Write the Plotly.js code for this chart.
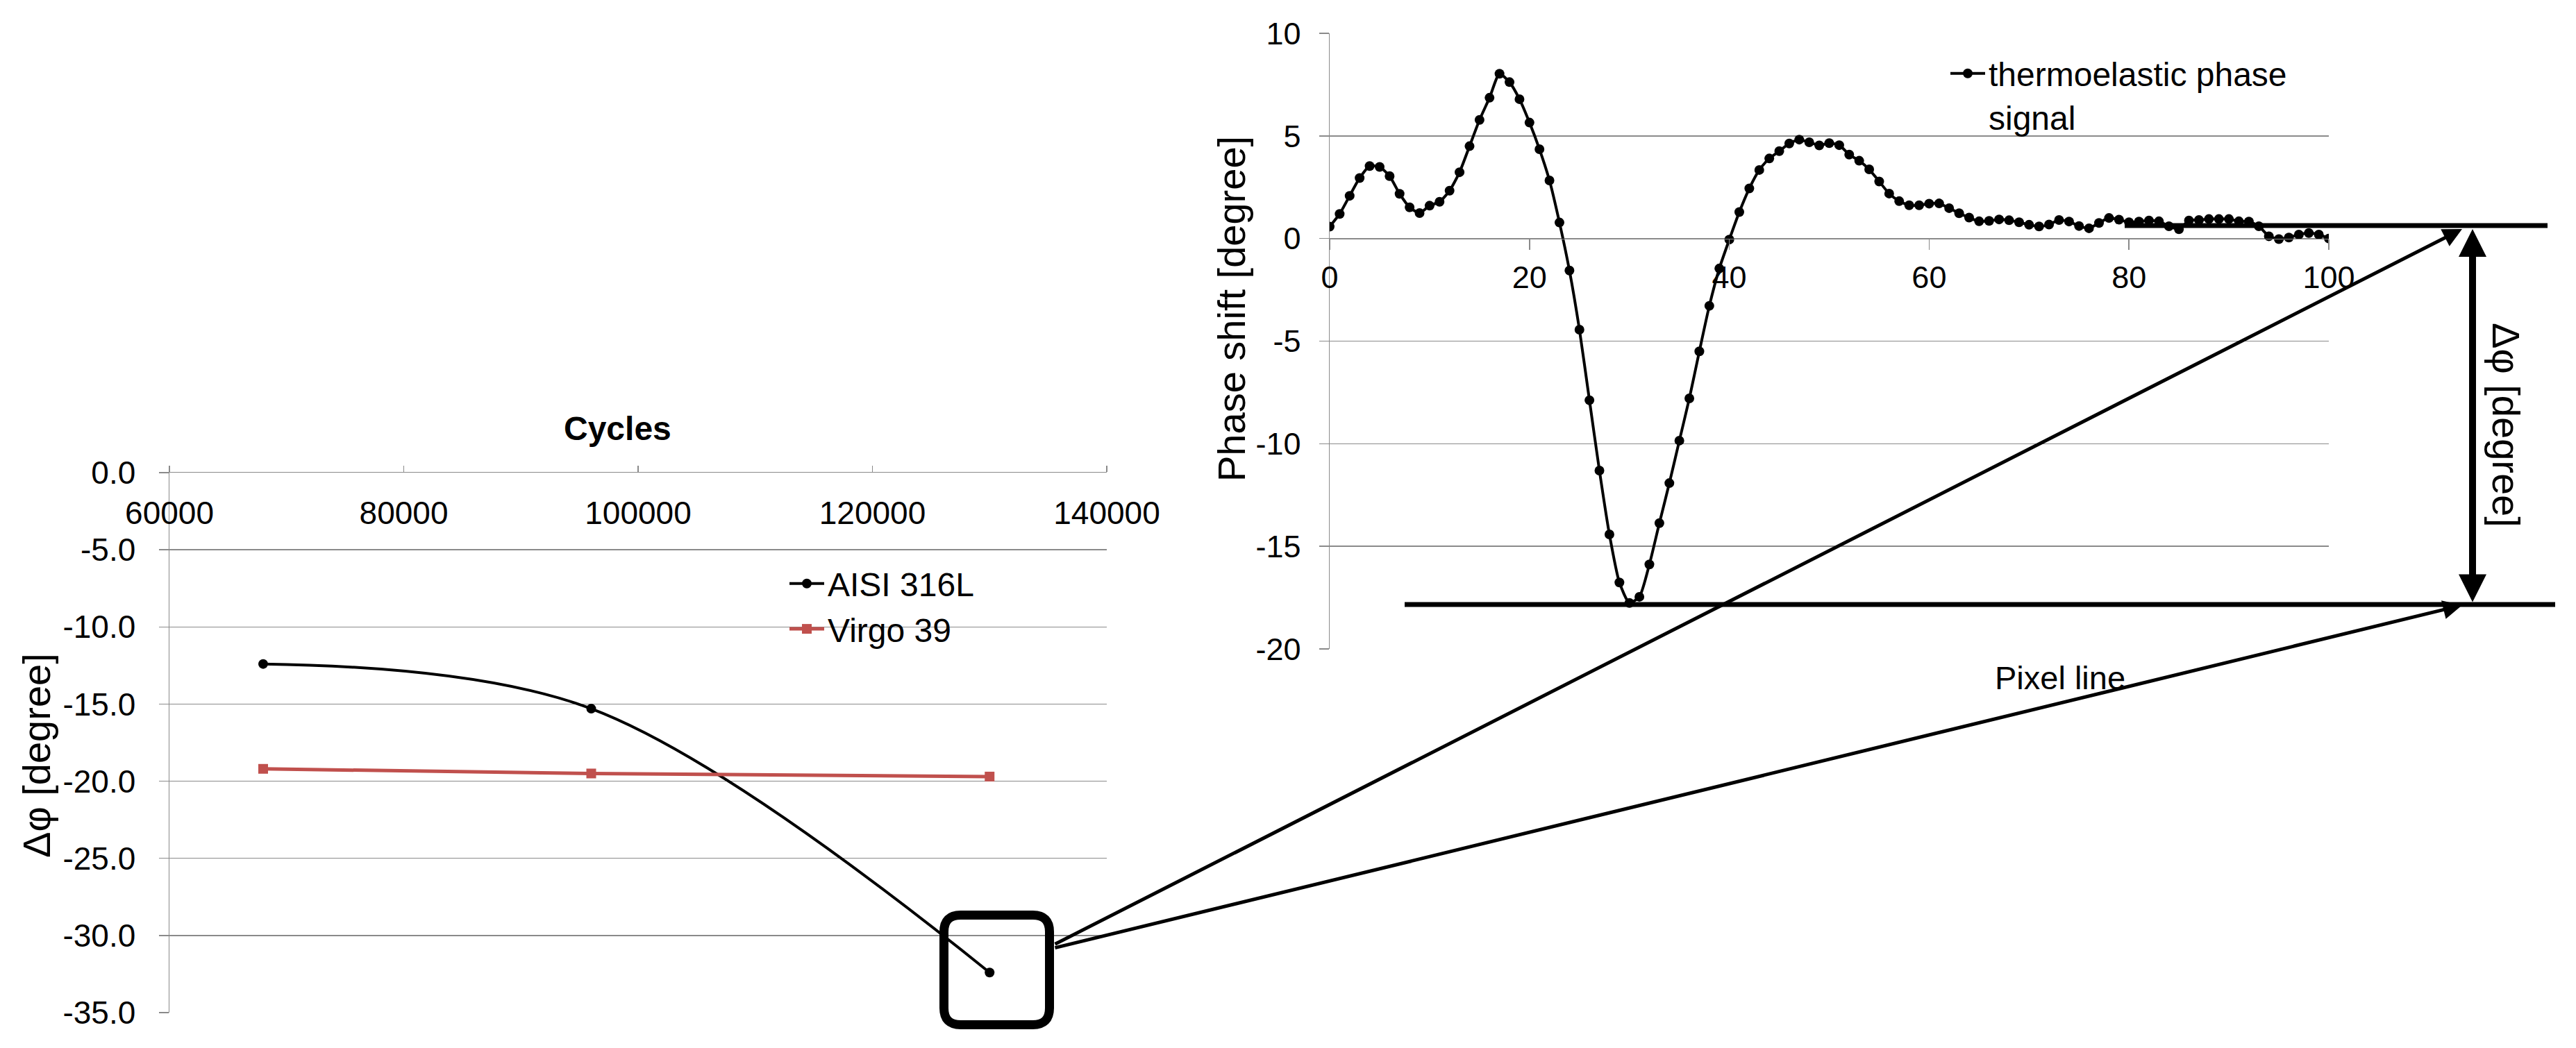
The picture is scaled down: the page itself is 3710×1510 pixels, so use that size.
<!DOCTYPE html>
<html>
<head>
<meta charset="utf-8">
<script src="https://cdn.plot.ly/plotly-3.0.1.min.js"></script>
<style>
html, body { margin: 0; padding: 0; background: #ffffff; }
#chart { width: 3710px; height: 1510px; }
</style>
</head>
<body>
<div id="chart"></div>
<script>
// ---------- Left chart data ----------
const cycles = [68000, 96000, 130000];
const aisi316L = [-12.4, -15.3, -32.4];
const virgo39 = [-19.2, -19.5, -19.7];
const leftXTickVals = [60000, 80000, 100000, 120000, 140000];
const leftXTickText = ['60000', '80000', '100000', '120000', '140000'];
const leftYTickVals = [0, -5, -10, -15, -20, -25, -30, -35];
const leftYTickText = ['0.0', '-5.0', '-10.0', '-15.0', '-20.0', '-25.0', '-30.0', '-35.0'];

// ---------- Right chart data ----------
const pixelIndex = [0, 1, 2, 3, 4, 5, 6, 7, 8, 9,
  10, 11, 12, 13, 14, 15, 16, 17, 18, 19,
  20, 21, 22, 23, 24, 25, 26, 27, 28, 29,
  30, 31, 32, 33, 34, 35, 36, 37, 38, 39,
  40, 41, 42, 43, 44, 45, 46, 47, 48, 49,
  50, 51, 52, 53, 54, 55, 56, 57, 58, 59,
  60, 61, 62, 63, 64, 65, 66, 67, 68, 69,
  70, 71, 72, 73, 74, 75, 76, 77, 78, 79,
  80, 81, 82, 83, 84, 85, 86, 87, 88, 89,
  90, 91, 92, 93, 94, 95, 96, 97, 98, 99,
  100];
const phaseShift = [0.58, 1.2, 2.08, 2.95, 3.53, 3.49, 3.04, 2.18, 1.52, 1.24,
  1.6, 1.79, 2.33, 3.23, 4.5, 5.78, 6.86, 8.03, 7.62, 6.79,
  5.65, 4.35, 2.83, 0.78, -1.56, -4.44, -7.88, -11.31, -14.42, -16.76,
  -17.76, -17.46, -15.88, -13.87, -11.92, -9.85, -7.79, -5.5, -3.28, -1.46,
  -0.05, 1.29, 2.44, 3.34, 3.9, 4.26, 4.63, 4.82, 4.69, 4.54,
  4.65, 4.55, 4.09, 3.79, 3.37, 2.78, 2.19, 1.82, 1.62, 1.62,
  1.7, 1.71, 1.48, 1.23, 1.02, 0.84, 0.86, 0.93, 0.89, 0.79,
  0.67, 0.59, 0.68, 0.9, 0.83, 0.61, 0.5, 0.76, 1.0, 0.92,
  0.79, 0.83, 0.88, 0.84, 0.6, 0.45, 0.88, 0.9, 0.95, 0.95,
  0.95, 0.84, 0.83, 0.6, 0.11, -0.03, 0.05, 0.19, 0.27, 0.19,
  0.0];
const rightXTickVals = [0, 20, 40, 60, 80, 100];
const rightXTickText = ['0', '20', '40', '60', '80', '100'];
const rightYTickVals = [10, 5, 0, -5, -10, -15, -20];
const rightYTickText = ['10', '5', '0', '-5', '-10', '-15', '-20'];

// ---------- Layout helpers (pixel -> paper) ----------
const W = 3710, H = 1510;
const px = v => v / W;
const py = v => 1 - v / H;

const FONT = 'Liberation Sans, Arial, Helvetica, sans-serif';
const GRID = '#8a8a8a';

const leftXRange = [60000, 140000];
const leftYRange = [-35, 0];
const rightXRange = [0, 100];
const rightYRange = [-20, 10];

const leftXDomain = [px(244), px(1594)];
const leftYDomain = [py(1459), py(681)];
const rightXDomain = [px(1915), px(3354)];
const rightYDomain = [py(935), py(48)];
// right x axis crosses the y axis at y = 0
const rightXPos = rightYDomain[0] +
  (0 - rightYRange[0]) / (rightYRange[1] - rightYRange[0]) * (rightYDomain[1] - rightYDomain[0]);

const traces = [
  {
    x: cycles, y: aisi316L, name: 'AISI 316L', type: 'scatter', mode: 'lines+markers',
    xaxis: 'x', yaxis: 'y', legend: 'legend',
    line: { color: '#000000', width: 4, shape: 'spline', smoothing: 1 },
    marker: { symbol: 'circle', size: 14, color: '#000000' }
  },
  {
    x: cycles, y: virgo39, name: 'Virgo 39', type: 'scatter', mode: 'lines+markers',
    xaxis: 'x', yaxis: 'y', legend: 'legend',
    line: { color: '#C0504D', width: 5 },
    marker: { symbol: 'square', size: 14, color: '#C0504D' }
  },
  {
    x: pixelIndex, y: phaseShift, name: 'thermoelastic phase<br>signal', type: 'scatter',
    mode: 'lines+markers', xaxis: 'x2', yaxis: 'y2', legend: 'legend2',
    line: { color: '#000000', width: 4, shape: 'spline', smoothing: 0.6 },
    marker: { symbol: 'circle', size: 14, color: '#000000' }
  }
];

function roundedRect(l, t, r, b, rad) {
  const P = (x, y) => px(x) + ',' + py(y);
  return 'M' + P(l + rad, t) + ' L' + P(r - rad, t) + ' Q' + P(r, t) + ' ' + P(r, t + rad) +
    ' L' + P(r, b - rad) + ' Q' + P(r, b) + ' ' + P(r - rad, b) +
    ' L' + P(l + rad, b) + ' Q' + P(l, b) + ' ' + P(l, b - rad) +
    ' L' + P(l, t + rad) + ' Q' + P(l, t) + ' ' + P(l + rad, t) + ' Z';
}

const shapes = [
  // rounded box around the last AISI 316L point
  { type: 'path', xref: 'paper', yref: 'paper', path: roundedRect(1359.5, 1318.5, 1511.5, 1476.5, 24),
    line: { color: '#000000', width: 13 }, fillcolor: 'rgba(0,0,0,0)' },
  // upper reference line
  { type: 'line', xref: 'paper', yref: 'paper', x0: px(3060), x1: px(3669), y0: py(325), y1: py(325),
    line: { color: '#000000', width: 7 } },
  // lower reference line
  { type: 'line', xref: 'paper', yref: 'paper', x0: px(2023), x1: px(3680), y0: py(871), y1: py(871),
    line: { color: '#000000', width: 7 } }
];

const annotations = [
  // axis titles
  { xref: 'paper', yref: 'paper', x: px(889), y: py(617), text: '<b>Cycles</b>', showarrow: false,
    xanchor: 'center', yanchor: 'middle', font: { family: FONT, size: 48, color: '#000000' } },
  { xref: 'paper', yref: 'paper', x: px(52), y: py(1089), text: 'Δφ [degree]', showarrow: false,
    textangle: -90, xanchor: 'center', yanchor: 'middle', font: { family: FONT, size: 56, color: '#000000' } },
  { xref: 'paper', yref: 'paper', x: px(1773), y: py(445), text: 'Phase shift [degree]', showarrow: false,
    textangle: -90, xanchor: 'center', yanchor: 'middle', font: { family: FONT, size: 56, color: '#000000' } },
  // arrows
  { xref: 'paper', yref: 'paper', x: px(3546), y: py(330), ax: 1518 - 3546, ay: 1361 - 330,
    text: '', showarrow: true, arrowhead: 2, arrowwidth: 5, arrowsize: 1.1, arrowcolor: '#000000', standoff: 0 },
  { xref: 'paper', yref: 'paper', x: px(3546), y: py(872), ax: 1518 - 3546, ay: 1366 - 872,
    text: '', showarrow: true, arrowhead: 2, arrowwidth: 5, arrowsize: 1.1, arrowcolor: '#000000', standoff: 0 },
  { xref: 'paper', yref: 'paper', x: px(3561), y: py(330), ax: 0, ay: 869 - 330,
    text: '', showarrow: true, arrowside: 'end+start', arrowhead: 2, startarrowhead: 2,
    arrowwidth: 10, arrowsize: 0.8, startarrowsize: 0.8, arrowcolor: '#000000', standoff: 0, startstandoff: 0 },
  { xref: 'paper', yref: 'paper', x: px(2967), y: py(976), text: 'Pixel line', showarrow: false,
    xanchor: 'center', yanchor: 'middle', font: { family: FONT, size: 47, color: '#000000' } },
  { xref: 'paper', yref: 'paper', x: px(3610), y: py(612), text: 'Δφ [degree]', showarrow: false,
    textangle: 90, xanchor: 'center', yanchor: 'middle', font: { family: FONT, size: 56, color: '#000000' } }
];

const layout = {
  width: W, height: H,
  margin: { l: 0, r: 0, t: 0, b: 0, pad: 0 },
  paper_bgcolor: '#ffffff', plot_bgcolor: '#ffffff',
  font: { family: FONT, color: '#000000' },
  showlegend: true,
  xaxis: {
    domain: leftXDomain, range: leftXRange, anchor: 'y', side: 'top',
    tickmode: 'array', tickvals: leftXTickVals, ticktext: leftXTickText,
    ticklabelposition: 'inside', ticklabeloverflow: 'allow', ticklabelstandoff: 48,
    ticks: 'outside', ticklen: 9, tickwidth: 1.5, tickcolor: GRID,
    showline: true, linecolor: GRID, linewidth: 1.5, showgrid: false, zeroline: false,
    tickfont: { family: FONT, size: 46, color: '#000000' }
  },
  yaxis: {
    domain: leftYDomain, range: leftYRange, anchor: 'x',
    tickmode: 'array', tickvals: leftYTickVals, ticktext: leftYTickText,
    ticks: 'outside', ticklen: 14, tickwidth: 1.5, tickcolor: GRID, ticklabelstandoff: 24,
    showline: true, linecolor: GRID, linewidth: 1.5,
    showgrid: true, gridcolor: GRID, gridwidth: 1.5, zeroline: false,
    tickfont: { family: FONT, size: 46, color: '#000000' }
  },
  xaxis2: {
    domain: rightXDomain, range: rightXRange, anchor: 'free', position: rightXPos, side: 'bottom',
    tickmode: 'array', tickvals: rightXTickVals, ticktext: rightXTickText,
    ticks: 'outside', ticklen: 15, tickwidth: 1.5, tickcolor: GRID, ticklabelstandoff: 1,
    showline: true, linecolor: GRID, linewidth: 1.5, showgrid: false, zeroline: false,
    tickfont: { family: FONT, size: 45, color: '#000000' }
  },
  yaxis2: {
    domain: rightYDomain, range: rightYRange, anchor: 'x2',
    tickmode: 'array', tickvals: rightYTickVals, ticktext: rightYTickText,
    ticks: 'outside', ticklen: 14, tickwidth: 1.5, tickcolor: GRID, ticklabelstandoff: 17,
    showline: true, linecolor: GRID, linewidth: 1.5,
    showgrid: true, gridcolor: GRID, gridwidth: 1.5, zeroline: false,
    tickfont: { family: FONT, size: 45, color: '#000000' }
  },
  legend: {
    x: px(1132), y: py(803), xanchor: 'left', yanchor: 'top',
    bgcolor: 'rgba(0,0,0,0)', borderwidth: 0, itemwidth: 50, traceorder: 'normal',
    font: { family: FONT, size: 48, color: '#000000' }
  },
  legend2: {
    x: px(2804), y: py(68), xanchor: 'left', yanchor: 'top', valign: 'top',
    bgcolor: 'rgba(0,0,0,0)', borderwidth: 0, itemwidth: 50,
    font: { family: FONT, size: 48, color: '#000000' }
  },
  shapes: shapes,
  annotations: annotations
};

Plotly.newPlot('chart', traces, layout, { staticPlot: true, displayModeBar: false });
</script>
</body>
</html>
